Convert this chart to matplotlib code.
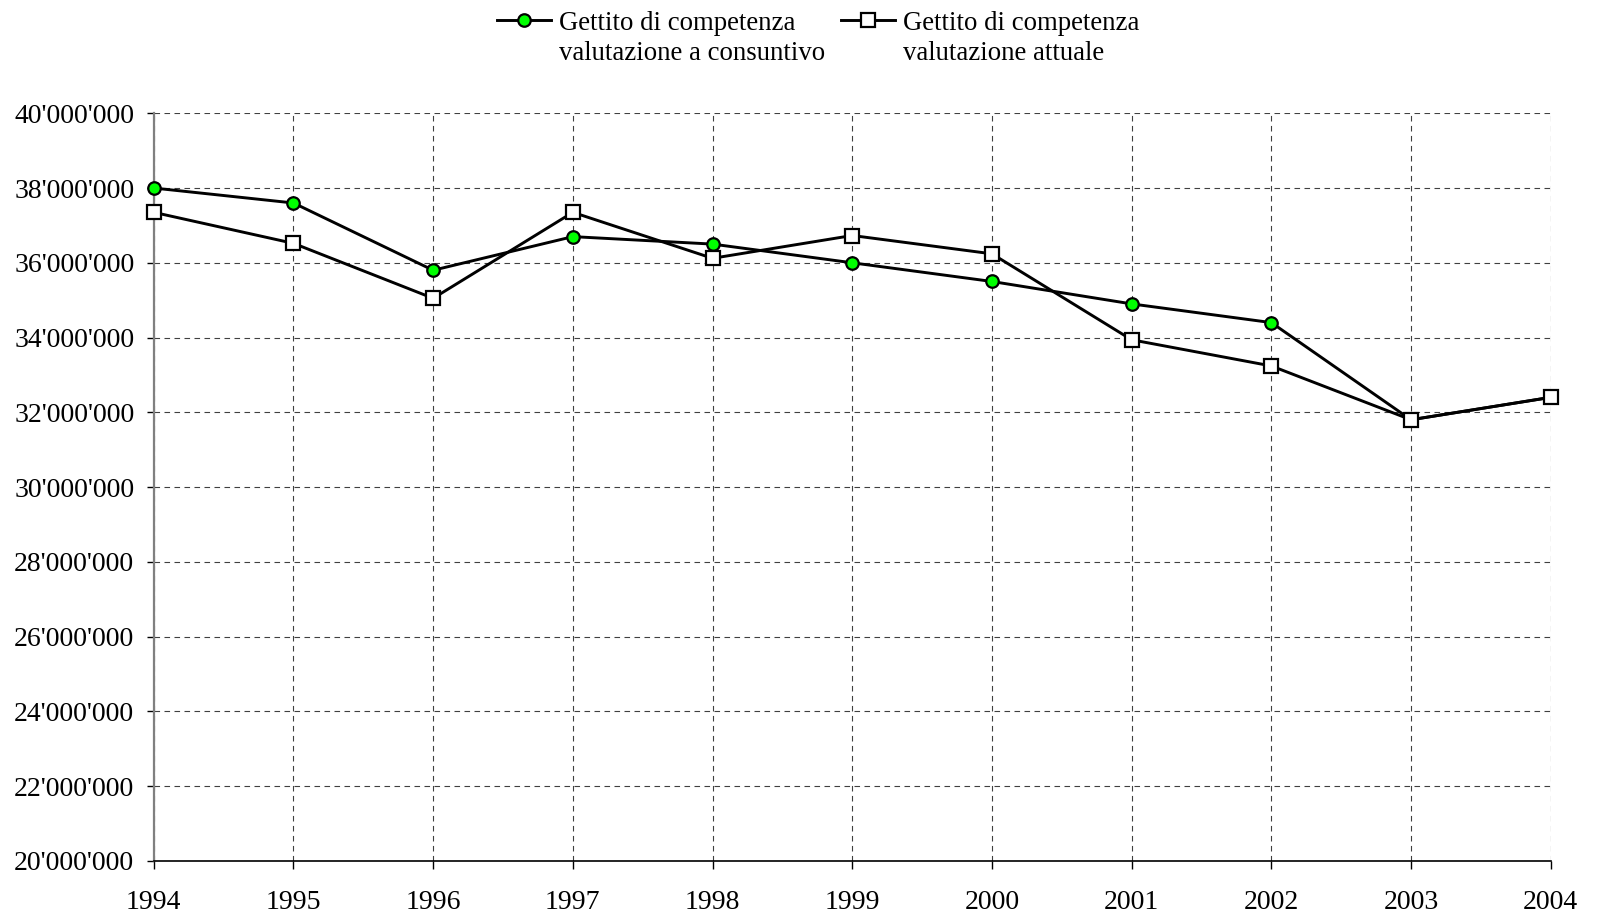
import matplotlib
matplotlib.use("Agg")
import matplotlib.pyplot as plt
from matplotlib.ticker import FuncFormatter

years = [1994, 1995, 1996, 1997, 1998, 1999, 2000, 2001, 2002, 2003, 2004]
consuntivo = [38.00, 37.60, 35.80, 36.70, 36.50, 36.00, 35.50, 34.90, 34.40, 31.80, 32.40]
attuale = [37.35, 36.52, 35.05, 37.35, 36.12, 36.73, 36.24, 33.94, 33.24, 31.80, 32.40]
labels = ["Gettito di competenza\nvalutazione a consuntivo",
          "Gettito di competenza\nvalutazione attuale"]

plt.rcParams["font.family"] = ["Liberation Serif", "DejaVu Serif"]

fig = plt.figure(figsize=(16, 9.18), dpi=100)
ax = fig.add_axes([0.0961, 0.0623, 0.9692 - 0.0961, 0.8766 - 0.0623])

ax.plot(years, [v * 1e6 for v in consuntivo], color="black", lw=2.1,
        marker="o", ms=9, mfc="#00ff00", mec="black", mew=1.6,
        label=labels[0], zorder=3, clip_on=False)
ax.plot(years, [v * 1e6 for v in attuale], color="black", lw=2.1,
        marker="s", ms=10.5, mfc="white", mec="black", mew=1.6,
        label=labels[1], zorder=4, clip_on=False)

ax.set_xlim(1994, 2004)
ax.set_ylim(20e6, 40e6)
ax.set_xticks(years)
ax.set_yticks(range(20000000, 40000001, 2000000))
ax.yaxis.set_major_formatter(FuncFormatter(lambda v, _: f"{int(round(v)):,}".replace(",", "'")))

ax.grid(True, color="#404040", lw=0.8, ls=(0, (5, 4)))
ax.set_axisbelow(True)
for s in ("top", "right"):
    ax.spines[s].set_visible(False)
ax.spines["left"].set_color("#808080")
ax.spines["left"].set_linewidth(1.6)
ax.spines["bottom"].set_linewidth(1.2)
ax.tick_params(axis="y", labelsize=20, length=5, width=1, pad=9)
ax.tick_params(axis="x", labelsize=20, length=6, width=1, pad=15)

leg = ax.legend(loc="upper center", bbox_to_anchor=(818 / 1600, 1.0),
                bbox_transform=fig.transFigure, ncol=2, frameon=False,
                fontsize=19.3, handlelength=2.0, handletextpad=0.3,
                columnspacing=0.6, borderaxespad=0)
for t in leg.get_texts():
    t.set_linespacing(1.3)
# keep markers level with the first line of each label
for col in leg._legend_handle_box.get_children():
    for row in col.get_children():
        row.align = "top"

fig.savefig("out.png", dpi=100)
